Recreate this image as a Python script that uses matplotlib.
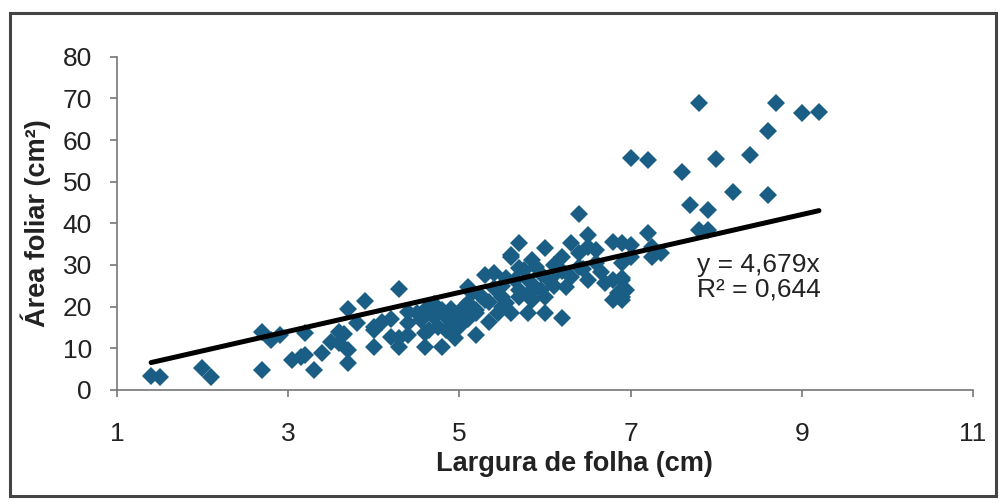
import numpy as np
import matplotlib
matplotlib.use('Agg')
import matplotlib.pyplot as plt
from matplotlib.patches import Rectangle

plt.rcParams['font.family'] = ['Liberation Sans', 'DejaVu Sans']

# leaf width (cm) and leaf area (cm2)
largura = [1.4, 1.5, 2.0, 2.1, 2.7, 2.7, 2.8, 2.9, 3.05, 3.15, 3.2, 3.2, 3.3, 3.4,
           3.5, 3.6, 3.6, 3.7, 3.7, 3.7, 3.8, 3.9, 4.0, 4.0, 4.1, 4.2, 4.3, 4.4,
           4.3, 4.3, 4.4, 4.5, 4.6, 4.6, 4.65, 4.7, 4.8, 4.8, 4.85, 4.9, 5.0, 5.0,
           5.1, 5.2, 5.2, 5.3, 5.4, 5.35, 5.45, 5.5, 5.6, 5.3, 5.15, 6.4, 5.7, 5.6,
           6.0, 6.3, 6.5, 6.5, 6.6, 6.8, 6.2, 6.4, 5.85, 5.9, 5.7, 6.1, 5.55, 5.8,
           6.05, 6.3, 6.5, 6.65, 6.7, 6.8, 6.9, 6.85, 6.8, 6.9, 5.55, 5.7, 5.85, 6.0,
           5.6, 5.8, 6.0, 6.2, 7.7, 7.9, 7.8, 7.9, 7.2, 7.0, 7.25, 6.9, 7.0, 7.25,
           7.35, 6.9, 6.9, 6.95, 6.9, 7.0, 7.2, 7.6, 7.8, 8.0, 8.4, 8.2, 8.6, 8.6,
           8.7, 9.0, 9.2, 4.55, 4.75, 4.85, 5.0, 5.1, 5.2, 5.7, 5.75, 5.35, 4.6, 5.05,
           5.9, 6.1, 6.2, 5.95, 6.4, 4.4, 4.95, 5.5, 4.0, 4.2, 3.65,
           4.7, 4.9, 5.1, 5.25, 5.4, 5.5, 5.65, 5.8, 5.95, 6.1, 6.25, 6.45, 6.6]
area = [3.4, 3.1, 5.3, 3.2, 4.8, 14.0, 12.0, 13.2, 7.2, 7.9, 8.4, 13.7, 4.8, 8.9,
        11.5, 14.0, 11.3, 19.5, 9.6, 6.5, 16.0, 21.4, 15.0, 10.4, 16.3, 12.7, 24.3, 18.8,
        12.5, 10.3, 13.2, 18.5, 19.2, 10.3, 14.4, 17.6, 19.2, 10.3, 14.4, 16.8, 18.5, 15.1,
        20.9, 13.2, 19.2, 27.6, 28.1, 16.3, 18.5, 22.4, 32.5, 21.6, 23.3, 42.3, 35.3, 32.0,
        34.1, 35.3, 37.3, 34.4, 33.6, 35.6, 32.0, 32.9, 31.2, 29.6, 29.3, 30.0, 26.9, 26.4,
        26.4, 27.2, 26.4, 28.4, 25.7, 26.4, 26.9, 23.3, 21.6, 21.6, 20.9, 22.4, 21.6, 22.4,
        18.5, 18.5, 18.5, 17.3, 44.5, 43.3, 38.5, 38.5, 37.7, 34.9, 34.4, 35.3, 32.0, 32.0,
        32.9, 30.5, 26.4, 24.0, 22.4, 55.8, 55.3, 52.4, 68.8, 55.5, 56.5, 47.6, 62.3, 46.9,
        69.0, 66.6, 66.8, 16.8, 15.1, 17.6, 16.1, 24.8, 18.5, 24.0, 28.8, 21.2, 13.7, 20.0,
        24.5, 25.0, 28.5, 27.8, 29.5, 16.0, 12.5, 25.0, 14.4, 17.0, 13.5,
        20.5, 19.5, 17.0, 22.5, 24.5, 20.0, 26.5, 23.0, 24.0, 27.5, 24.8, 29.0, 30.5]
slope = 4.679
eq_text = 'y = 4,679x\nR² = 0,644'

fig = plt.figure(figsize=(9.99, 5.03), dpi=100)
ax = fig.add_axes([0.117, 0.225, 0.857, 0.662])

ax.plot(largura, area, 'D', color='#1b5e85', markersize=9.5, markeredgewidth=0)
xl = np.array([min(largura), max(largura)])
ax.plot(xl, slope * xl, color='black', linewidth=3.6, solid_capstyle='round')

ax.set_xlim(1, 11)
ax.set_ylim(0, 80)
ax.set_xticks([1, 3, 5, 7, 9, 11])
ax.set_yticks(range(0, 81, 10))
for s in ['top', 'right']:
    ax.spines[s].set_visible(False)
for s in ['left', 'bottom']:
    ax.spines[s].set_color('#777777')
    ax.spines[s].set_linewidth(1.2)
ax.tick_params(axis='both', direction='out', length=5, width=1.2, color='#777777',
               labelsize=19, labelcolor='#222222')
ax.tick_params(axis='x', pad=18)
ax.tick_params(axis='y', pad=13)
ax.set_xlabel('Largura de folha (cm)', fontsize=19.5, fontweight='bold', color='#222222')
ax.xaxis.set_label_coords(0.535, -0.185)
ax.set_ylabel('Área foliar (cm²)', fontsize=19.5, fontweight='bold', color='#222222', labelpad=8)
ax.text(7.78, 27, eq_text, fontsize=19, color='#222222', va='center', ha='left', linespacing=1.0)

# frame around the chart
fig.patches.append(Rectangle((0.01, 0.014), 0.987, 0.96, transform=fig.transFigure,
                             fill=False, edgecolor='#444444', linewidth=2.2))

fig.savefig('out.png', dpi=100)
